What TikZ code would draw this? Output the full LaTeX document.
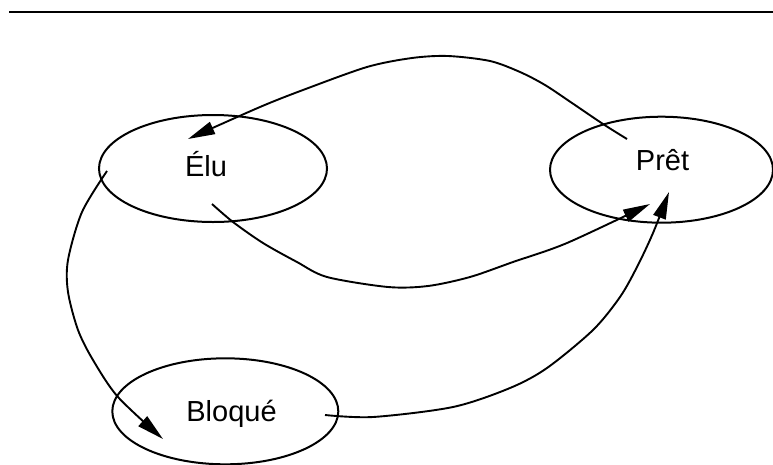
\documentclass[tikz,border=0pt]{standalone}
\usepackage{fontspec}
\setmainfont{Liberation Sans}
\usetikzlibrary{shapes.geometric,arrows.meta}
\tikzset{
  statebox/.style={draw, ellipse, line width=2pt, inner sep=0pt},
  lbl/.style={anchor=base, inner sep=0pt, font=\fontsize{29}{34}\selectfont},
  conn/.style={line width=1.9pt, -{Triangle[length=27pt,width=13pt]}},
}
\begin{document}
\begin{tikzpicture}[x=1pt,y=-1pt]
\useasboundingbox (0,0) rectangle (773,464);
\coordinate (rl) at (9,12);
\coordinate (rr) at (773,12);
\draw[line width=2.5pt] (rl) -- (rr);

\node[statebox, minimum width=228pt, minimum height=107pt] (elu) at (213,168.5) {};
\node[statebox, minimum width=223pt, minimum height=106pt] (pret) at (661.5,169.7) {};
\node[statebox, minimum width=226pt, minimum height=106pt] (bloque) at (225.3,411.3) {};

\node[lbl] (elut) at (206,176) {Élu};
\node[lbl] (prett) at (662.5,170.7) {Prêt};
\node[lbl] (bloquet) at (231.5,421.7) {Bloqué};

% connector end points inside the ellipses
\coordinate (pretA) at (627,139);
\coordinate (eluA) at (188,139);
\coordinate (eluB) at (212,204);
\coordinate (pretB) at (650,204);
\coordinate (eluC) at (107,171);
\coordinate (bloqueC) at (163,439);
\coordinate (bloqueD) at (325,415);
\coordinate (pretD) at (669,192);

% Pret -> Elu
\draw[conn] plot[smooth, tension=0.5] coordinates {(pretA) (603,124) (572,103) (545,85) (520,72) (490,61) (448,56) (412,58) (367,67) (303,90) (260,107) (eluA)};
% Elu -> Pret
\draw[conn] plot[smooth, tension=0.5] coordinates {(eluB) (233,222) (263,243) (297,262) (327,277) (388,287) (428,286) (470,277) (513,262) (567,243) (pretB)};
% Elu -> Bloque
\draw[conn] plot[smooth, tension=0.5] coordinates {(eluC) (82,212) (68,260) (68,292) (78,330) (93,360) (118,397) (bloqueC)};
% Bloque -> Pret
\draw[conn] plot[smooth, tension=0.5] coordinates {(bloqueD) (373,417) (453,407) (510,388) (547,368) (593,330) (620,297) (637,267) (653,233) (pretD)};
\end{tikzpicture}
\end{document}
